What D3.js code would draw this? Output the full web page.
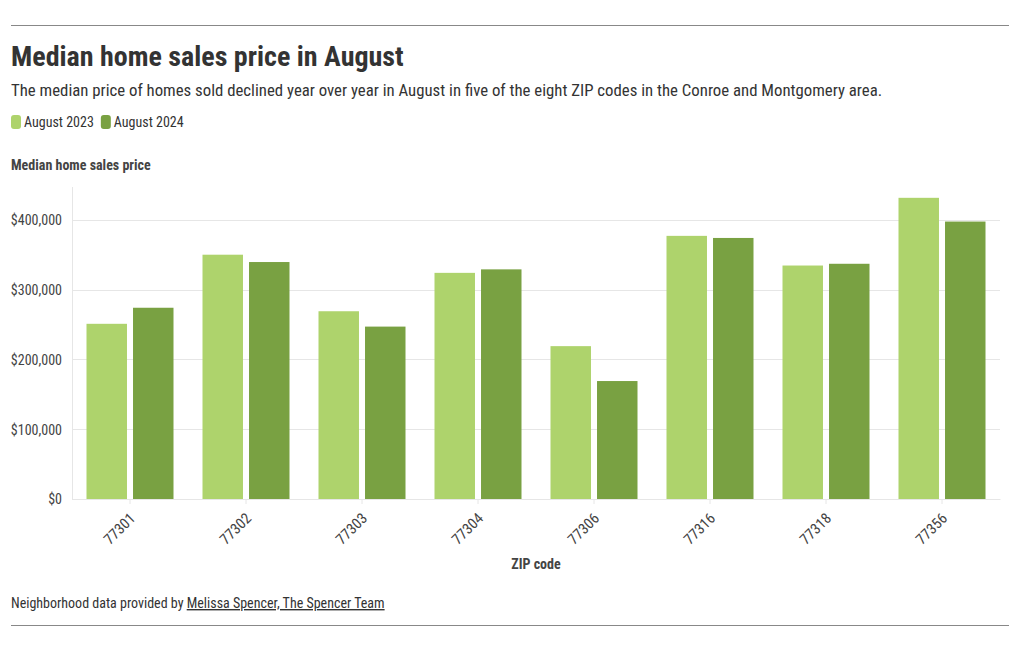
<!DOCTYPE html>
<html>
<head>
<meta charset="utf-8">
<script src="https://cdn.jsdelivr.net/npm/d3@7"></script>
<style>
  html, body { margin: 0; padding: 0; background: #fff; }
  body { font-family: "Roboto Condensed", "Liberation Sans Narrow", Roboto, sans-serif; }
  svg text { font-family: "Roboto Condensed", "Liberation Sans Narrow", Roboto, sans-serif; }
</style>
</head>
<body>
<svg id="chart" width="1020" height="650"></svg>
<script>
const zips = ["77301", "77302", "77303", "77304", "77306", "77316", "77318", "77356"];
const seriesNames = ["August 2023", "August 2024"];
const aug2023 = [251000, 350000, 269000, 324000, 219000, 377000, 334500, 431500];
const aug2024 = [274000, 339500, 247000, 329000, 169000, 374000, 337000, 397500];
const yTicks = [0, 100000, 200000, 300000, 400000];
const colors = ["#aed36c", "#79a142"];

const svg = d3.select("#chart");
const mLeft = 72, mRight = 1000, mTop = 187, mBottom = 499;

// rules
svg.append("line").attr("x1", 11).attr("x2", 1009).attr("y1", 25.5).attr("y2", 25.5).attr("stroke", "#888").attr("stroke-width", 1);
svg.append("line").attr("x1", 11).attr("x2", 1009).attr("y1", 625.5).attr("y2", 625.5).attr("stroke", "#888").attr("stroke-width", 1);

svg.append("text").attr("x", 11).attr("y", 66).attr("font-size", 28).attr("font-weight", 700).attr("fill", "#333")
  .text("Median home sales price in August");
svg.append("text").attr("x", 11).attr("y", 96).attr("font-size", 16.8).attr("fill", "#333")
  .text("The median price of homes sold declined year over year in August in five of the eight ZIP codes in the Conroe and Montgomery area.");

// legend
const lg = svg.append("g").attr("transform", "translate(11,115)");
let lx = 0;
seriesNames.forEach((n, i) => {
  const g = lg.append("g").attr("transform", `translate(${lx},0)`);
  g.append("rect").attr("width", 10).attr("height", 14).attr("rx", 3).attr("fill", colors[i]);
  const t = g.append("text").attr("x", 13).attr("y", 12).attr("font-size", 14).attr("fill", "#333").text(n);
  lx += 13 + t.node().getComputedTextLength() + 7;
});

svg.append("text").attr("x", 11).attr("y", 170).attr("font-size", 14).attr("font-weight", 700).attr("fill", "#444")
  .text("Median home sales price");

const x0 = d3.scaleBand().domain(zips).range([mLeft, mRight]).paddingInner(0.25).paddingOuter(0.125);
const x1 = d3.scaleBand().domain(seriesNames).range([0, x0.bandwidth()]).paddingInner(0.13);
const y = d3.scaleLinear().domain([0, 447000]).range([mBottom, mTop]);

// grid
svg.append("g").selectAll("line").data(yTicks).join("line")
  .attr("x1", mLeft).attr("x2", mRight)
  .attr("y1", d => Math.round(y(d)) + 0.5).attr("y2", d => Math.round(y(d)) + 0.5)
  .attr("stroke", "#e6e6e6");
svg.append("line").attr("x1", mLeft + 0.5).attr("x2", mLeft + 0.5).attr("y1", mTop).attr("y2", mBottom)
  .attr("stroke", "#e6e6e6");

// y axis
const yAxis = svg.append("g").attr("transform", `translate(${mLeft},0)`)
  .call(d3.axisLeft(y).tickValues(yTicks).tickSize(0).tickPadding(10).tickFormat(d => "$" + d3.format(",")(d)));
yAxis.select(".domain").remove();
yAxis.selectAll("text").attr("font-size", 14).attr("fill", "#444").attr("dy", "0.35em");

// bars
const data = zips.map((z, i) => ({ zip: z, vals: [aug2023[i], aug2024[i]] }));
const groups = svg.append("g").selectAll("g").data(data).join("g")
  .attr("transform", d => `translate(${x0(d.zip)},0)`);
groups.selectAll("rect").data(d => d.vals.map((v, i) => ({ key: seriesNames[i], v, i })))
  .join("rect")
  .attr("x", d => x1(d.key))
  .attr("width", x1.bandwidth())
  .attr("y", d => y(d.v))
  .attr("height", d => y(0) - y(d.v))
  .attr("fill", d => colors[d.i]);

// x axis
const xAxis = svg.append("g").attr("transform", `translate(0,${mBottom})`)
  .call(d3.axisBottom(x0).tickSize(5).tickSizeOuter(0));
xAxis.select(".domain").attr("stroke", "#e6e6e6");
xAxis.selectAll(".tick line").attr("stroke", "#e6e6e6");
xAxis.selectAll("text").attr("font-size", 15).attr("fill", "#444")
  .attr("text-anchor", "end").attr("y", 0).attr("dy", "0.35em")
  .attr("transform", "translate(2.5,16.5) rotate(-45)");

svg.append("text").attr("x", (mLeft + mRight) / 2).attr("y", 569).attr("text-anchor", "middle")
  .attr("font-size", 14).attr("font-weight", 700).attr("fill", "#444").text("ZIP code");

// footer
const ft = svg.append("text").attr("x", 11).attr("y", 608).attr("font-size", 14).attr("fill", "#333");
ft.append("tspan").text("Neighborhood data provided by ");
ft.append("tspan").attr("text-decoration", "underline").text("Melissa Spencer, The Spencer Team");
</script>
</body>
</html>
